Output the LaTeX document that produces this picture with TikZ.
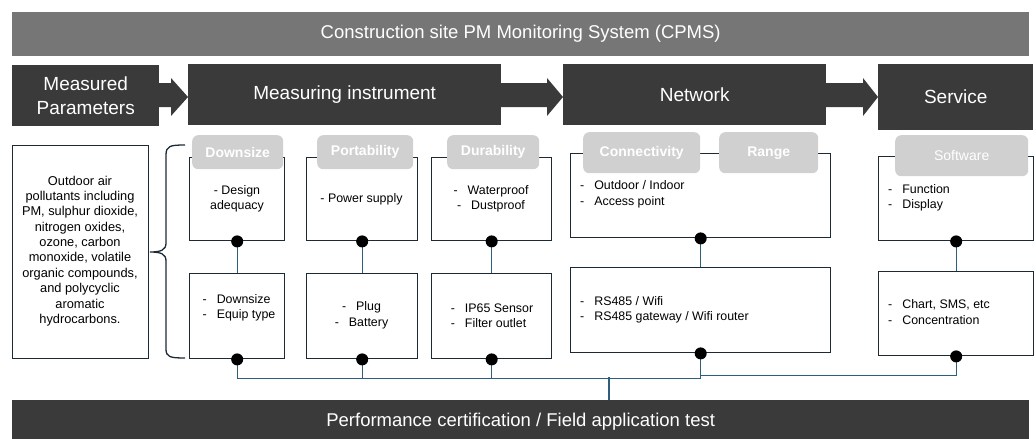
\documentclass[tikz,border=0pt]{standalone}
\usepackage{fontspec}
\setmainfont{Liberation Sans}
\usetikzlibrary{calc}
\definecolor{bannergray}{RGB}{118,118,118}
\definecolor{darkfill}{RGB}{58,58,58}
\definecolor{taggray}{RGB}{208,208,208}
\definecolor{boxline}{RGB}{28,42,54}
\definecolor{wire}{RGB}{45,95,125}
\begin{document}
\begin{tikzpicture}[x=1pt,y=-1pt,
  banner/.style={fill=bannergray, text=white, inner sep=0pt, anchor=north west, font=\fontsize{18.5}{22}\selectfont},
  darkbox/.style={fill=darkfill, text=white, inner sep=0pt, anchor=north west, align=center, font=\fontsize{19}{24}\selectfont},
  itembox/.style={draw=boxline, line width=1.4pt, fill=white, anchor=north west, inner sep=0pt},
  tagbox/.style={fill=taggray, rounded corners=6pt, text=white, inner sep=0pt, anchor=north west, font=\bfseries\fontsize{14}{16}\selectfont},
  body/.style={font=\fontsize{12.4}{15.5}\selectfont, inner sep=0pt, align=center},
  leftbody/.style={font=\fontsize{12.4}{15.5}\selectfont, inner sep=0pt, align=left, anchor=west},
  dot/.style={circle, fill=black, inner sep=0pt, minimum size=12pt},
  wirestyle/.style={draw=wire, line width=1.2pt},
  arrowfill/.style={fill=darkfill}
]
\useasboundingbox (0,0) rectangle (1036,439);

% top banner
\node[banner, minimum width=1017pt, minimum height=44pt] (title) at (12,12) {Construction site PM Monitoring System (CPMS)};

% main row
\node[darkbox, minimum width=147pt, minimum height=61pt] (mp) at (12,65) {Measured\\Parameters};
\node[darkbox, minimum width=313pt, minimum height=61pt] (mi) at (188,64) {Measuring instrument};
\node[darkbox, minimum width=263pt, minimum height=61pt] (nw) at (563,64) {Network};
\node[darkbox, minimum width=155pt, minimum height=66pt] (sv) at (878,64) {Service};

% block arrows
\fill[arrowfill] (159,83) -- (171,83) -- (171,78) -- (188,97) -- (171,116) -- (171,107) -- (159,107) -- cycle;
\fill[arrowfill] (501,83) -- (547,83) -- (547,78) -- (563,97) -- (547,116) -- (547,107) -- (501,107) -- cycle;
\fill[arrowfill] (826,83) -- (863,83) -- (863,78) -- (878,97) -- (863,116) -- (863,107) -- (826,107) -- cycle;

% left description box
\node[itembox, minimum width=136pt, minimum height=213pt] (lb) at (12,145) {};
\node[body, font=\fontsize{12.8}{15.35}\selectfont] (lbt) at (80,251) {Outdoor air\\pollutants including\\PM, sulphur dioxide,\\nitrogen oxides,\\ozone, carbon\\monoxide, volatile\\organic compounds,\\and polycyclic\\aromatic\\hydrocarbons.};

% brace
\draw[boxline, line width=1.3pt] (185,145) .. controls (170,145) and (166,146) .. (166,155) -- (166,243) .. controls (166,250) and (161,252) .. (150,252) .. controls (161,252) and (166,254) .. (166,261) -- (166,349) .. controls (166,357) and (170,358) .. (185,358);

% item boxes
\node[itembox, minimum width=95pt, minimum height=83pt] (dt) at (189,157) {};
\node[itembox, minimum width=95pt, minimum height=85pt] (db) at (189,273) {};
\node[itembox, minimum width=111pt, minimum height=83pt] (pt) at (306,157) {};
\node[itembox, minimum width=111pt, minimum height=85pt] (pb) at (306,273) {};
\node[itembox, minimum width=120pt, minimum height=83pt] (ut) at (431,157) {};
\node[itembox, minimum width=120pt, minimum height=85pt] (ub) at (431,273) {};
\node[itembox, minimum width=260pt, minimum height=84pt] (nt) at (570,153) {};
\node[itembox, minimum width=260pt, minimum height=85pt] (nb) at (570,267) {};
\node[itembox, minimum width=155pt, minimum height=84pt] (st) at (878,156) {};
\node[itembox, minimum width=155pt, minimum height=84pt] (sb) at (878,271) {};

% tags
\node[tagbox, minimum width=91pt, minimum height=34pt] (tg1) at (192,135) {Downsize};
\node[tagbox, minimum width=96pt, minimum height=34pt] (tg2) at (317,135) {Portability};
\node[tagbox, minimum width=92pt, minimum height=34pt] (tg3) at (447,135) {Durability};
\node[tagbox, minimum width=117pt, minimum height=41pt] (tg4) at (583,132) {Connectivity};
\node[tagbox, minimum width=99pt, minimum height=41pt] (tg5) at (719,132) {Range};
\node[tagbox, minimum width=133pt, minimum height=41pt, font=\fontsize{14}{16}\selectfont] (tg6) at (895,135) {Software};

% box texts
\node[body] (dtt) at (237,199) {- Design\\adequacy};
\node[body, align=left] (dbt) at (239,308) {-\hspace{10pt}Downsize\\-\hspace{10pt}Equip type};
\node[body] (ptt) at (361.5,199) {- Power supply};
\node[body] (pbt) at (361.5,315.5) {-\hspace{10pt}Plug\\-\hspace{10pt}Battery};
\node[body] (utt) at (491,199) {-\hspace{10pt}Waterproof\\-\hspace{10pt}Dustproof};
\node[body, align=left] (ubt) at (492,315.5) {-\hspace{10pt}IP65 Sensor\\-\hspace{10pt}Filter outlet};
\node[leftbody] (ntt) at (580,194.5) {-\hspace{10pt}Outdoor / Indoor\\-\hspace{10pt}Access point};
\node[leftbody] (nbt) at (580,310) {-\hspace{10pt}RS485 / Wifi\\-\hspace{10pt}RS485 gateway / Wifi router};
\node[leftbody] (stt) at (888,198) {-\hspace{10pt}Function\\-\hspace{10pt}Display};
\node[leftbody] (sbt) at (888,312) {-\hspace{10pt}Chart, SMS, etc\\-\hspace{10pt}Concentration};

% bottom banner
\node[darkbox, minimum width=1017pt, minimum height=44pt, font=\fontsize{18.5}{22}\selectfont] (perf) at (12,400) {Performance certification / Field application test};

% wires
\coordinate (trunk) at (609,377);
\draw[wirestyle] (dt.south) -- (db.north);
\draw[wirestyle] (pt.south) -- (pb.north);
\draw[wirestyle] (ut.south) -- (ub.north);
\draw[wirestyle] (nt.south) -- (nb.north);
\draw[wirestyle] (st.south) -- (sb.north);
\draw[wirestyle] (db.south) -- ++(0,19) -| (nb.south);
\draw[wirestyle] (pb.south) -- ++(0,19);
\draw[wirestyle] (ub.south) -- ++(0,19);
\draw[wirestyle] (sb.south) |- ($(nb.south)+(0,22)$);
\draw[wirestyle] (trunk) -- (trunk |- perf.north);

% dots
\foreach \b in {dt,db,pt,pb,ut,ub,nt,nb,st,sb}
  \node[dot] (dot\b) at (\b.south) {};
\end{tikzpicture}
\end{document}
